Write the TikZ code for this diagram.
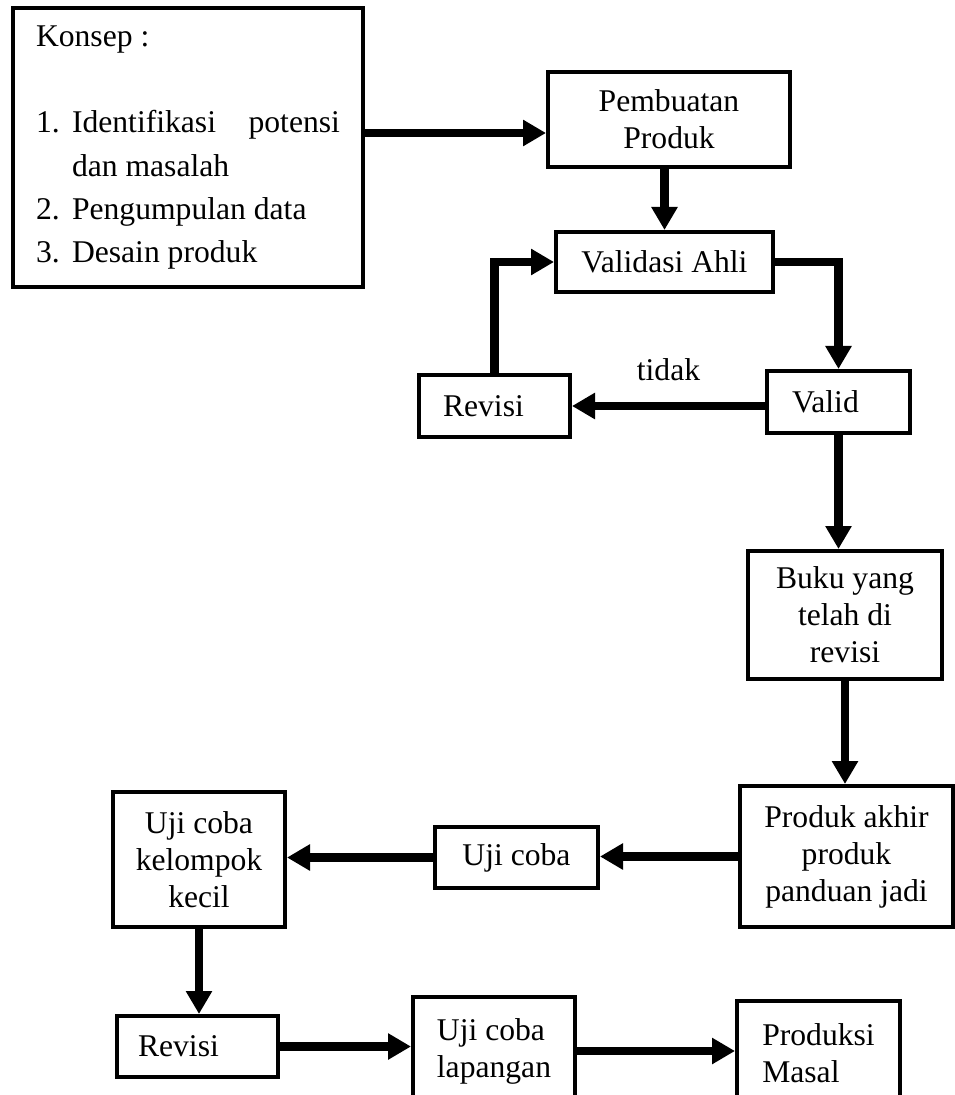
\documentclass[tikz,border=0pt]{standalone}
\usepackage{fontspec}
\setmainfont{Liberation Serif}
\usepackage{tikz}
\usetikzlibrary{arrows.meta,calc,positioning}
\hyphenpenalty=10000
\exhyphenpenalty=10000

\begin{document}
\begin{tikzpicture}[
  x=0.02cm, y=-0.02cm,
  box/.style={draw, line width=2.3pt, inner sep=0pt, align=center, font=\fontsize{18}{21}\selectfont},
  konsepbox/.style={draw, line width=2.3pt, inner xsep=0.46cm, inner ysep=0pt, text width=6.08cm,
    minimum height=5.58cm, align=justify, font=\fontsize{18}{24.5}\selectfont},
  flow/.style={line width=5pt, -{Triangle[length=4.6mm,width=5mm]}}
]
\useasboundingbox (0,0) rectangle (955,1095);
% Konsep and first steps
\node[konsepbox] (konsep) at (188,147.5) {\noindent Konsep :\par\mbox{}\par
  \hangindent=0.72cm\hangafter=1\noindent\makebox[0.72cm][l]{1.}Identifikasi potensi dan masalah\par
  \noindent\makebox[0.72cm][l]{2.}Pengumpulan data\par
  \noindent\makebox[0.72cm][l]{3.}Desain produk};
\node[box, minimum width=4.84cm, minimum height=1.9cm] (pembuatan) at (669,119.5) {Pembuatan\\Produk};
\node[box, minimum width=4.34cm, minimum height=1.2cm] (validasi) at (664.5,262) {Validasi Ahli};
\node[box, text width=1.86cm, inner xsep=0.5cm, align=left, minimum height=1.24cm] (valid) at (838.5,402) {Valid};
\node[box, text width=2.06cm, inner xsep=0.48cm, align=left, minimum height=1.24cm] (revisiA) at (494.5,406) {Revisi};

% Revised book and final product
\node[box, minimum width=3.88cm, minimum height=2.56cm] (buku) at (845,615) {Buku yang\\telah di\\revisi};
\node[box, minimum width=4.26cm, minimum height=2.82cm] (akhir) at (846.5,856.5) {Produk akhir\\produk\\panduan jadi};
\node[box, minimum width=3.26cm, minimum height=1.22cm] (ujicoba) at (516.5,857.5) {Uji coba};
\node[box, minimum width=3.44cm, minimum height=2.7cm] (kelompok) at (199,859.5) {Uji coba\\kelompok\\kecil};

% Bottom row
\node[box, text width=2.38cm, inner xsep=0.42cm, align=left, minimum height=1.22cm] (revisiB) at (197.5,1046.5) {Revisi};
\node[box, align=left, minimum width=3.24cm, minimum height=2.16cm] (lapangan) at (494,1051) {Uji coba\\lapangan};
\node[box, align=left, minimum width=3.26cm, minimum height=2.08cm] (produksi) at (818.5,1053) {Produksi\\Masal};

% Connectors
\draw[flow] ([yshift=0.29cm]konsep.east) -- ([yshift=0.29cm]konsep.east -| pembuatan.west);
\draw[flow] (pembuatan.south -| validasi.north) -- (validasi.north);
\draw[flow] (validasi.east) -| (valid.north);
\draw[flow] (revisiA.east -| valid.west) -- (revisiA.east)
  node[midway, above=0.42cm, inner sep=0pt, font=\fontsize{18}{21}\selectfont] (tidak) {tidak};
\draw[flow] (revisiA.north) |- (validasi.west);
\draw[flow] (valid.south) -- (valid.south |- buku.north);
\draw[flow] (buku.south) -- (buku.south |- akhir.north);
\draw[flow] (akhir.west) -- (akhir.west -| ujicoba.east);
\draw[flow] (ujicoba.west) -- (ujicoba.west -| kelompok.east);
\draw[flow] (kelompok.south) -- (kelompok.south |- revisiB.north);
\draw[flow] (revisiB.east) -- (revisiB.east -| lapangan.west);
\draw[flow] (lapangan.east) -- (lapangan.east -| produksi.west);
\end{tikzpicture}
\end{document}
